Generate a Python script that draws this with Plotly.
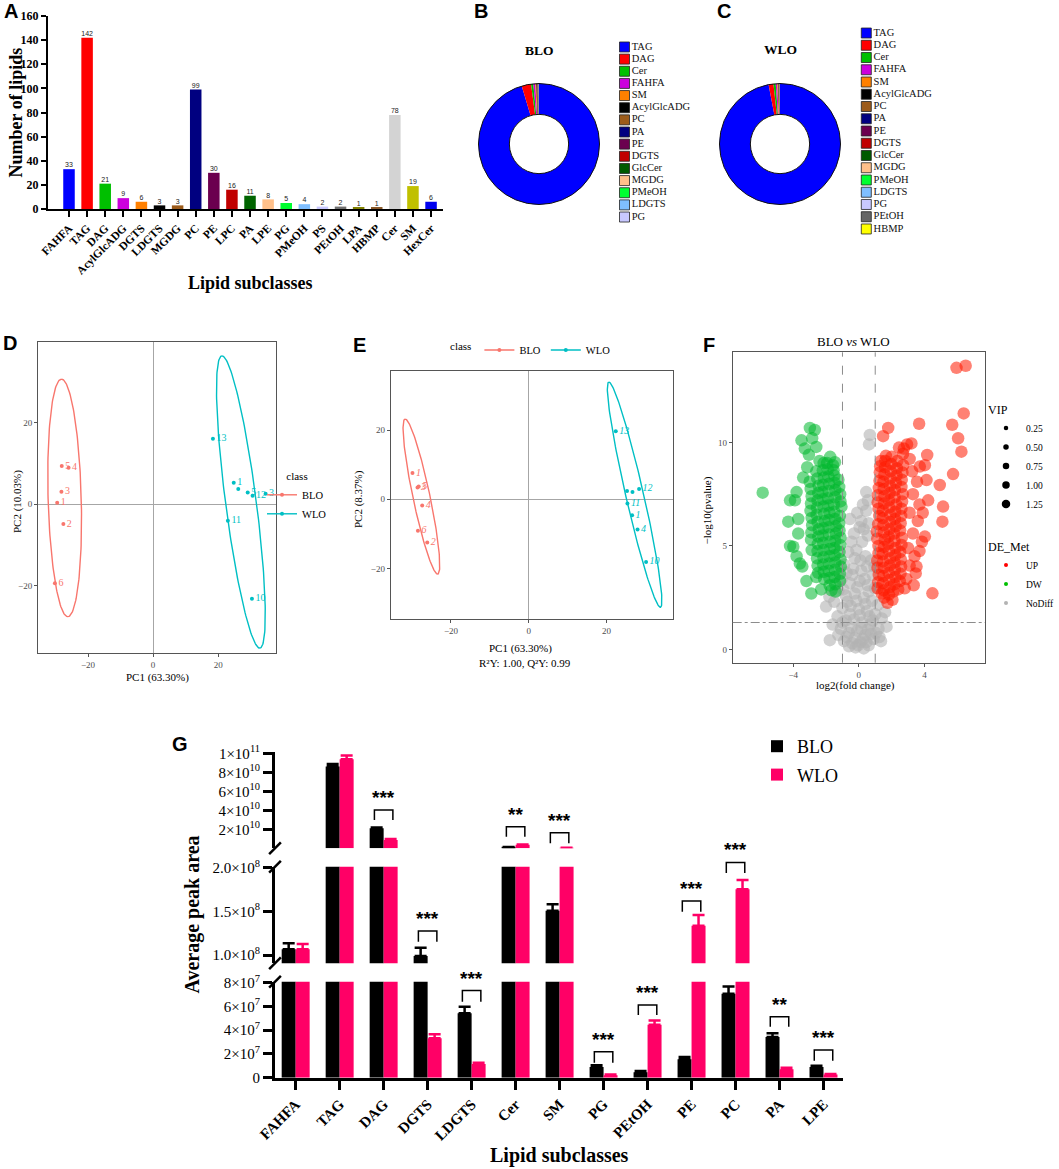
import numpy as np
import plotly.graph_objects as go

W, H = 1059, 1169
SERIF = "Liberation Serif"
SANS = "Liberation Sans"

# ---------------- A: number of lipids in each subclass
a_classes = ["FAHFA", "TAG", "DAG", "AcylGlcADG", "DGTS", "LDGTS", "MGDG", "PC", "PE", "LPC",
             "PA", "LPE", "PG", "PMeOH", "PS", "PEtOH", "LPA", "HBMP", "Cer", "SM", "HexCer"]
a_counts = [33, 142, 21, 9, 6, 3, 3, 99, 30, 16, 11, 8, 5, 4, 2, 2, 1, 1, 78, 19, 6]
a_colors = ["#0000FF", "#FF0000", "#00BF00", "#CC00DD", "#FF8000", "#000000", "#9C5B1A",
            "#000080", "#6B004F", "#C00000", "#006400", "#FFC08A", "#00FF30", "#7FBFFF",
            "#C8C8FF", "#707070", "#808000", "#8B5A2B", "#D3D3D3", "#C0C000", "#0000EE"]

# ---------------- B / C: composition of the two oils (%)
blo_classes = ["TAG", "DAG", "Cer", "FAHFA", "SM", "AcylGlcADG", "PC", "PA", "PE", "DGTS",
               "GlcCer", "MGDG", "PMeOH", "LDGTS", "PG"]
blo_share = [95.4, 2.5, 0.6, 0.5, 0.3, 0.2, 0.15, 0.1, 0.08, 0.05, 0.04, 0.03, 0.02, 0.02, 0.01]
wlo_classes = ["TAG", "DAG", "Cer", "FAHFA", "SM", "AcylGlcADG", "PC", "PA", "PE", "DGTS",
               "GlcCer", "MGDG", "PMeOH", "LDGTS", "PG", "PEtOH", "HBMP"]
wlo_share = [97.0, 1.3, 0.6, 0.4, 0.25, 0.15, 0.1, 0.07, 0.05, 0.03, 0.02, 0.02, 0.01, 0.01,
             0.01, 0.005, 0.003]
pie_colors = {"TAG": "#0000FF", "DAG": "#FF0000", "Cer": "#00C000", "FAHFA": "#CC00DD",
              "SM": "#FF8000", "AcylGlcADG": "#000000", "PC": "#9C5B1A", "PA": "#000080",
              "PE": "#6B004F", "DGTS": "#C00000", "GlcCer": "#005A00", "MGDG": "#FFC08A",
              "PMeOH": "#00FF30", "LDGTS": "#7FBFFF", "PG": "#C8C8FF", "PEtOH": "#666666",
              "HBMP": "#FFFF00"}

# ---------------- D: PCA scores
d_blo_x = [-29.5, -27.6, -28.2, -26.0, -28.1, -30.2]
d_blo_y = [0.3, -4.9, 3.0, 8.9, 9.3, -19.4]
d_blo_lab = ["1", "2", "3", "4", "5", "6"]
d_wlo_x = [18.4, 24.8, 29.1, 30.6, 34.6, 23.0, 30.4]
d_wlo_y = [16.0, 5.2, 2.8, 2.0, 2.5, -4.1, -23.2]
d_wlo_lab = ["13", "1", "5", "12", "3", "11", "10"]
d_wlo_free_x = [26.2]          # sample whose label is hidden
d_wlo_free_y = [3.7]
# confidence ellipses: centre x, centre y, half major axis (dx, dy), half minor axis
ell_d_blo = [-27.2, 1.5, -1.0, 29.1, 5.1]
ell_d_wlo = [27.0, 0.5, -5.9, 35.8, 4.7]

# ---------------- E: OPLS-DA scores
e_blo_x = [-29.9, -26.1, -28.6, -27.4, -28.3, -28.5]
e_blo_y = [7.6, -12.5, 3.4, -1.8, 3.7, -9.1]
e_blo_lab = ["1", "2", "3", "4", "5", "6"]
e_wlo_x = [22.4, 28.4, 25.4, 26.6, 28.0, 30.2]
e_wlo_y = [19.7, 3.0, -1.2, -4.6, -8.7, -18.1]
e_wlo_lab = ["13", "12", "11", "1", "4", "10"]
e_wlo_free_x = [25.3, 26.7]
e_wlo_free_y = [2.4, 2.1]
ell_e_blo = [-27.6, 0.8, -4.2, 22.4, 2.2]
ell_e_wlo = [27.25, 1.35, -6.65, 32.55, 2.3]

# ---------------- F: volcano (log2 fold change, -log10 p)
nodiff_pts = [(0.67, 10.36), (0.62, 9.9), (0.55, 7.2), (0.45, 6.7), (0.30, 5.8), (-0.55, 6.3),
              (-0.30, 5.6), (0.20, 5.2), (0.55, 5.5), (-0.15, 4.8), (0.40, 4.5), (-0.65, 4.7),
              (0.75, 4.3), (-0.90, 4.1), (-0.35, 3.9), (0.15, 3.8), (0.85, 3.6), (-1.05, 3.4),
              (-0.55, 3.2), (0.05, 3.3), (0.55, 3.1), (0.98, 2.95), (-1.25, 2.85), (-0.80, 2.6),
              (-0.25, 2.7), (0.30, 2.5), (0.80, 2.35), (1.15, 2.15), (-1.50, 2.3), (-1.00, 2.0),
              (-0.50, 2.1), (0.00, 1.95), (0.50, 1.85), (1.00, 1.7), (1.40, 1.5), (-1.30, 1.6),
              (-0.80, 1.4), (-0.30, 1.45), (0.20, 1.3), (0.70, 1.2), (1.20, 1.0), (-1.10, 1.0),
              (-0.60, 0.8), (-0.10, 0.9), (0.40, 0.7), (0.90, 0.5), (-0.90, 0.4), (-0.40, 0.3),
              (0.10, 0.35), (0.60, 0.2), (-1.77, 0.45), (1.69, 1.1), (-1.80, 2.55), (-2.00, 2.07),
              (1.35, 0.4), (-0.20, 0.1), (0.30, 0.05), (1.60, 1.8), (-1.60, 1.2), (0.45, 7.6),
              (0.60, 6.1), (-0.45, 5.2), (-0.75, 3.7), (0.95, 4.0), (-0.70, 2.3), (-0.15, 2.35),
              (0.40, 2.2), (0.65, 1.6), (-0.55, 1.7), (0.05, 1.65), (-1.00, 1.3), (-0.45, 1.05),
              (0.15, 1.0), (0.55, 0.95), (1.05, 0.8), (-0.75, 0.6), (-0.25, 0.55), (0.25, 0.5),
              (0.75, 0.75), (-1.25, 0.7), (1.25, 0.6), (-0.05, 0.2), (0.45, 0.35), (-0.60, 0.15),
              (0.85, 1.4), (-0.95, 2.9), (0.60, 2.8), (-0.10, 3.0), (0.35, 3.4), (-0.40, 3.6),
              (0.10, 4.3), (-0.25, 4.4), (0.50, 4.0), (0.05, 5.9), (-0.10, 6.6), (0.25, 7.0),
              (0.15, 6.2)]
down_pts = [(-5.87, 7.57), (-2.99, 10.7), (-2.69, 10.6), (-3.50, 10.1), (-3.30, 9.7), (-2.60, 9.78),
            (-1.46, 9.04), (-2.15, 9.0), (-4.31, 6.17), (-3.90, 7.2), (-3.70, 6.3), (-4.00, 4.96),
            (-3.60, 4.15), (-3.40, 8.3), (-2.88, 4.8), (-2.60, 3.5), (-2.90, 2.7), (-1.67, 2.86),
            (-1.06, 6.9), (-4.20, 7.2), (-3.80, 7.6), (-3.70, 5.6), (-3.80, 4.5), (-3.45, 4.0),
            (-4.20, 5.0), (-2.85, 10.2), (-3.05, 9.4), (-1.75, 9.3), (-2.30, 2.9), (-3.20, 3.3),
            (-1.15, 3.3), (-1.10, 4.0), (-1.18, 4.7), (-1.12, 5.4), (-1.20, 6.1), (-1.14, 7.5),
            (-1.25, 8.2), (-1.42, 2.8), (-1.48, 3.5), (-1.45, 4.2), (-1.50, 4.9), (-1.40, 5.6),
            (-1.46, 6.3), (-1.52, 7.0), (-1.44, 7.7), (-1.50, 8.4), (-1.58, 8.9), (-1.78, 3.1),
            (-1.84, 3.8), (-1.80, 4.5), (-1.76, 5.2), (-1.85, 5.9), (-1.80, 6.6), (-1.88, 7.3),
            (-1.82, 8.0), (-1.90, 8.7), (-2.12, 3.4), (-2.18, 4.1), (-2.15, 4.8), (-2.20, 5.5),
            (-2.10, 6.2), (-2.16, 6.9), (-2.22, 7.6), (-2.14, 8.3), (-2.40, 9.1), (-2.48, 3.7),
            (-2.55, 4.4), (-2.50, 5.1), (-2.45, 5.8), (-2.58, 6.5), (-2.52, 7.2), (-2.46, 7.9),
            (-2.60, 8.6), (-2.92, 5.3), (-2.85, 6.0), (-2.95, 6.7), (-2.88, 7.4), (-3.00, 8.1),
            (-3.15, 8.8), (-1.16, 3.65), (-1.12, 4.35), (-1.14, 5.05), (-1.18, 5.75), (-1.16, 6.45),
            (-1.12, 7.15), (-1.20, 7.85), (-1.44, 3.15), (-1.46, 3.85), (-1.48, 4.55), (-1.44, 5.25),
            (-1.42, 5.95), (-1.50, 6.65), (-1.46, 7.35), (-1.48, 8.05), (-1.54, 8.65), (-1.80, 3.45),
            (-1.82, 4.15), (-1.78, 4.85), (-1.82, 5.55), (-1.84, 6.25), (-1.86, 6.95), (-1.84, 7.65),
            (-1.86, 8.35), (-1.94, 9.0), (-2.14, 3.75), (-2.16, 4.45), (-2.18, 5.15), (-2.16, 5.85),
            (-2.12, 6.55), (-2.18, 7.25), (-2.18, 7.95), (-2.20, 8.65), (-2.52, 4.05), (-2.52, 4.75),
            (-2.48, 5.45), (-2.52, 6.15), (-2.56, 6.85), (-2.48, 7.55), (-2.54, 8.25), (-2.90, 5.65),
            (-2.88, 6.35), (-2.92, 7.05), (-2.94, 7.75)]
up_pts = [(5.96, 13.6), (6.52, 13.7), (6.40, 11.4), (5.70, 10.85), (6.06, 10.2), (6.26, 9.55),
          (5.75, 8.47), (4.94, 7.94), (5.14, 6.9), (5.10, 6.17), (3.68, 10.9), (1.79, 10.7),
          (1.48, 10.3), (3.21, 9.95), (4.17, 9.39), (4.03, 8.9), (4.13, 8.18), (4.23, 7.2),
          (4.03, 5.45), (3.52, 4.0), (3.47, 3.67), (4.49, 2.71), (2.94, 9.9), (3.10, 9.2),
          (2.70, 9.45), (3.72, 8.83), (3.25, 8.6), (3.55, 8.1), (3.30, 7.5), (3.70, 7.0),
          (3.10, 6.6), (3.60, 6.2), (3.30, 5.6), (3.85, 5.2), (3.00, 4.9), (3.40, 4.5),
          (3.10, 4.05), (2.90, 3.4), (3.70, 4.75), (3.90, 6.6), (2.80, 2.95), (3.35, 3.1),
          (2.75, 9.7), (2.45, 9.75), (1.15, 2.95), (1.22, 3.6), (1.12, 4.3), (1.20, 5.0),
          (1.10, 5.7), (1.25, 6.45), (1.15, 7.1), (1.22, 7.8), (1.28, 8.55), (1.35, 9.1),
          (1.55, 2.5), (1.48, 3.2), (1.52, 3.95), (1.45, 4.6), (1.58, 5.3), (1.50, 6.0),
          (1.47, 6.7), (1.56, 7.4), (1.50, 8.1), (1.60, 8.8), (1.65, 9.35), (1.75, 2.25),
          (1.88, 3.0), (1.82, 3.7), (1.90, 4.4), (1.80, 5.1), (1.86, 5.8), (1.92, 6.5),
          (1.84, 7.2), (1.90, 7.9), (1.95, 8.6), (2.00, 9.3), (2.10, 2.8), (2.22, 3.5),
          (2.18, 4.2), (2.25, 4.9), (2.15, 5.6), (2.20, 6.3), (2.28, 7.0), (2.20, 7.7),
          (2.30, 8.4), (2.35, 9.1), (2.50, 3.3), (2.58, 4.0), (2.52, 4.7), (2.62, 5.4),
          (2.55, 6.1), (2.60, 6.8), (2.68, 7.5), (2.62, 8.2), (2.70, 8.9), (2.05, 2.4),
          (1.40, 2.7), (2.40, 2.9), (1.18, 3.25), (1.14, 3.95), (1.20, 4.65), (1.12, 5.35),
          (1.18, 6.05), (1.20, 6.8), (1.16, 7.45), (1.26, 8.15), (1.30, 8.85), (1.52, 2.85),
          (1.50, 3.55), (1.48, 4.25), (1.54, 4.95), (1.52, 5.65), (1.46, 6.35), (1.54, 7.05),
          (1.52, 7.75), (1.56, 8.45), (1.62, 9.1), (1.84, 2.65), (1.86, 3.35), (1.88, 4.05),
          (1.84, 4.75), (1.82, 5.45), (1.90, 6.15), (1.86, 6.85), (1.88, 7.55), (1.92, 8.25),
          (1.98, 8.95), (2.16, 3.15), (2.20, 3.85), (2.22, 4.55), (2.18, 5.25), (2.24, 5.95),
          (2.22, 6.65), (2.18, 7.35), (2.26, 8.05), (2.32, 8.75), (2.54, 3.65), (2.56, 4.35),
          (2.60, 5.05), (2.52, 5.75), (2.58, 6.45), (2.64, 7.15), (2.60, 7.85), (2.66, 8.55)]
vip_levels = ["0.25", "0.50", "0.75", "1.00", "1.25"]
fc_cut = [-1, 1]
p_cut = -np.log10(0.05)

# ---------------- G: average peak area per subclass
g_classes = ["FAHFA", "TAG", "DAG", "DGTS", "LDGTS", "Cer", "SM", "PG", "PEtOH", "PE", "PC", "PA", "LPE"]
g_blo = [1.065e8, 8.6e10, 2.1e10, 0.99e8, 5.42e7, 1.2e9, 1.507e8, 0.9e7, 0.45e7, 1.55e7, 7.06e7, 3.42e7, 0.9e7]
g_blo_err = [0.07e8, 0.27e10, 0.1e10, 0.094e8, 0.56e7, 0.1e9, 0.073e8, 0.15e7, 0.11e7, 0.2e7, 0.61e7, 0.33e7, 0.1e7]
g_wlo = [1.065e8, 9.37e10, 0.87e10, 3.32e7, 1.15e7, 3.8e9, 6e8, 0.2e7, 4.46e7, 1.335e8, 1.752e8, 0.72e7, 0.26e7]
g_wlo_err = [0.06e8, 0.4e10, 0.1e10, 0.33e7, 0.11e7, 0.3e9, 0.3e8, 0.06e7, 0.36e7, 0.123e8, 0.106e8, 0.12e7, 0.05e7]
sig_classes = ["DAG", "Cer", "SM", "DGTS", "LDGTS", "PG", "PEtOH", "PE", "PC", "PA", "LPE"]
sig_marks = ["***", "**", "***", "***", "***", "***", "***", "***", "***", "**", "***"]
sig_seg = ["top", "top", "top", "mid", "bot", "bot", "bot", "mid", "mid", "bot", "bot"]
sig_top = [4.03e10, 2.27e10, 1.64e10, 1.275e8, 7.33e7, 2.19e7, 6.12e7, 1.618e8, 2.06e8, 5.14e7, 2.33e7]
sig_bot = [2.98e10, 1.22e10, 0.53e10, 1.152e8, 6.4e7, 1.26e7, 5.28e7, 1.495e8, 1.94e8, 4.29e7, 1.43e7]
top_ticks = [2e10, 4e10, 6e10, 8e10, 1e11]
top_text = ["2×10<sup>10</sup>", "4×10<sup>10</sup>", "6×10<sup>10</sup>", "8×10<sup>10</sup>", "1×10<sup>11</sup>"]
mid_ticks = [1.0e8, 1.5e8, 2.0e8]
mid_text = ["1.0×10<sup>8</sup>", "1.5×10<sup>8</sup>", "2.0×10<sup>8</sup>"]
bot_ticks = [0, 2e7, 4e7, 6e7, 8e7]
bot_text = ["0", "2×10<sup>7</sup>", "4×10<sup>7</sup>", "6×10<sup>7</sup>", "8×10<sup>7</sup>"]

RED, CYAN = "#F8766D", "#00BFC4"
BLACK, PINK = "#000000", "#FF0066"


def fx(px):
    return px / W


def fy(py):
    return 1 - py / H


def dom_x(left, right):
    return [left / W, right / W]


def dom_y(top, bottom):
    return [1 - bottom / H, 1 - top / H]


def ellipse(p, n=181):
    cx, cy, ux, uy, b = p
    t = np.linspace(0, 2 * np.pi, n)
    L = np.hypot(ux, uy)
    vx, vy = uy / L * b, -ux / L * b
    return cx + ux * np.cos(t) + vx * np.sin(t), cy + uy * np.cos(t) + vy * np.sin(t)


fig = go.Figure()

# A
fig.add_trace(go.Bar(x=a_classes, y=a_counts, marker=dict(color=a_colors, line=dict(width=0)),
                     showlegend=False, xaxis="x", yaxis="y"))
fig.add_trace(go.Scatter(x=a_classes, y=a_counts, mode="text", text=[str(c) for c in a_counts],
                         textposition="top center", cliponaxis=False, showlegend=False,
                         textfont=dict(family=SANS, size=7, color="#222"), xaxis="x", yaxis="y"))

# B, C donuts + their key
for classes, share, cx, k in [(blo_classes, blo_share, 539, 2), (wlo_classes, wlo_share, 780, 3)]:
    dom = dict(x=dom_x(cx - 60.5, cx + 60.5), y=dom_y(144 - 60.5, 144 + 60.5))
    fig.add_trace(go.Pie(labels=classes, values=share, sort=False, direction="clockwise", rotation=0,
                         hole=0.49, domain=dom, textinfo="none", showlegend=False,
                         marker=dict(colors=[pie_colors[c] for c in classes], line=dict(width=0))))
    fig.add_trace(go.Pie(labels=["ring"], values=[1], hole=0.49, domain=dom, textinfo="none",
                         showlegend=False, hoverinfo="skip",
                         marker=dict(colors=["rgba(0,0,0,0)"], line=dict(color="#111", width=1))))
    fig.add_trace(go.Scatter(x=[0] * len(classes), y=classes, mode="markers+text", text=classes,
                             textposition="middle right", cliponaxis=False, showlegend=False,
                             marker=dict(symbol="square", size=10, color=[pie_colors[c] for c in classes],
                                         line=dict(color="#222", width=0.8)),
                             textfont=dict(family=SERIF, size=10.5, color="#111"),
                             xaxis=f"x{k}", yaxis=f"y{k}"))

# D, E score plots
for k, bx, by, blab, wx, wy, wlab, fx_, fy_, eb, ew, style in [
        (4, d_blo_x, d_blo_y, d_blo_lab, d_wlo_x, d_wlo_y, d_wlo_lab, d_wlo_free_x, d_wlo_free_y,
         ell_d_blo, ell_d_wlo, "normal"),
        (5, e_blo_x, e_blo_y, e_blo_lab, e_wlo_x, e_wlo_y, e_wlo_lab, e_wlo_free_x, e_wlo_free_y,
         ell_e_blo, ell_e_wlo, "italic")]:
    for px_, py_, lab, ell, col in [(bx, by, blab, eb, RED), (wx, wy, wlab, ew, CYAN)]:
        ex, ey = ellipse(ell)
        fig.add_trace(go.Scatter(x=ex, y=ey, mode="lines", line=dict(color=col, width=1.4),
                                 showlegend=False, xaxis=f"x{k}", yaxis=f"y{k}"))
        fig.add_trace(go.Scatter(x=px_, y=py_, mode="markers+text", text=lab, textposition="middle right",
                                 marker=dict(color=col, size=4),
                                 textfont=dict(family=SERIF, size=10, color=col, style=style),
                                 showlegend=False, xaxis=f"x{k}", yaxis=f"y{k}"))
    fig.add_trace(go.Scatter(x=fx_, y=fy_, mode="markers", marker=dict(color=CYAN, size=4),
                             showlegend=False, xaxis=f"x{k}", yaxis=f"y{k}"))
    for name, col in [("BLO", RED), ("WLO", CYAN)]:
        fig.add_trace(go.Scatter(x=[None], y=[None], mode="lines+markers", name=name,
                                 line=dict(color=col, width=1.4), marker=dict(color=col, size=4),
                                 legend="legend2" if k == 4 else "legend3", xaxis=f"x{k}", yaxis=f"y{k}"))

# F volcano
for pts, col, op in [(nodiff_pts, "#B3B3B3", 0.6), (down_pts, "#00B82E", 0.55), (up_pts, "#FF1A00", 0.55)]:
    vx, vy = zip(*pts)
    fig.add_trace(go.Scatter(x=vx, y=vy, mode="markers", marker=dict(color=col, size=12.5, opacity=op,
                                                                   line=dict(width=0)),
                             showlegend=False, xaxis="x6", yaxis="y6"))
for i, lv in enumerate(vip_levels):
    fig.add_trace(go.Scatter(x=[None], y=[None], mode="markers", name=lv, legend="legend4",
                             marker=dict(color="black", size=4.5 + i), xaxis="x6", yaxis="y6"))
for name, col in [("UP", "#FF0000"), ("DW", "#00C000"), ("NoDiff", "#B3B3B3")]:
    fig.add_trace(go.Scatter(x=[None], y=[None], mode="markers", name=name, legend="legend5",
                             marker=dict(color=col, size=4), xaxis="x6", yaxis="y6"))

# G broken-axis bars: the same bars on three value ranges
g_seg = {"bot": ("y7", 981.7, 1077.7, 0, 8.08e7),
         "mid": ("y8", 866.7, 963.3, 0.905e8, 2.011e8),
         "top": ("y9", 751.7, 848.3, 0, 1.017e11)}
seg_order = ["bot", "mid", "top"]


def seg_of(v):
    if v <= g_seg["bot"][4]:
        return "bot"
    if v <= g_seg["mid"][4]:
        return "mid"
    return "top"


for seg in seg_order:
    for name, vals, errs, col in [("BLO", g_blo, g_blo_err, BLACK), ("WLO", g_wlo, g_wlo_err, PINK)]:
        reach = [seg_order.index(seg_of(v)) >= seg_order.index(seg) for v in vals]
        fig.add_trace(go.Bar(x=g_classes, y=[v if r else None for v, r in zip(vals, reach)], name=name,
                             marker=dict(color=col, line=dict(width=0)),
                             error_y=dict(type="data", symmetric=False, arrayminus=[0] * len(errs),
                                          array=[e if seg_of(v) == seg else None for v, e in zip(vals, errs)],
                                          color=col, thickness=2.5, width=6),
                             showlegend=(seg == "bot"), legendgroup=name, offsetgroup=name,
                             xaxis="x7", yaxis=g_seg[seg][0]))


def seg_paper(seg, v):
    _, top_px, bot_px, r0, r1 = g_seg[seg]
    return fy(bot_px - (v - r0) / (r1 - r0) * (bot_px - top_px))


# ---------------- layout
frame = dict(showline=True, mirror=True, linecolor="#555", linewidth=1, ticks="outside", ticklen=3,
             tickcolor="#555", tickfont=dict(family=SERIF, size=9, color="#4D4D4D"), showgrid=False,
             zeroline=True, zerolinecolor="#A6A6A6", zerolinewidth=1, automargin=False)
hidden = dict(visible=False, showgrid=False, zeroline=False, automargin=False)
g_y = dict(showline=True, linewidth=3, linecolor="black", ticks="outside", ticklen=9, tickwidth=3,
           tickcolor="black", tickfont=dict(family=SERIF, size=15, color="black"), showgrid=False,
           zeroline=False, anchor="x7", automargin=False)

fig.update_layout(
    template="none",
    width=W, height=H, margin=dict(l=0, r=0, t=0, b=0, autoexpand=False),
    paper_bgcolor="white", plot_bgcolor="white",
    font=dict(family=SERIF, color="black"), barmode="group", bargap=0.364,
    xaxis=dict(domain=dom_x(48, 443), range=[-1.16, 20.66], anchor="y", tickangle=-45, showline=True,
               linewidth=2, linecolor="black", ticks="outside", ticklen=6, tickwidth=2, tickcolor="black",
               showgrid=False, automargin=False, tickfont=dict(family=SERIF, size=11.5, weight="bold")),
    yaxis=dict(domain=dom_y(16, 209), range=[0, 160], dtick=20, anchor="x", showline=True, linewidth=2,
               linecolor="black", ticks="outside", ticklen=5, tickwidth=2, tickcolor="black",
               showgrid=False, zeroline=False, automargin=False,
               tickfont=dict(family=SERIF, size=12, weight="bold")),
    xaxis2=dict(domain=dom_x(614.5, 714.5), range=[-10, 90], anchor="y2", **hidden),
    yaxis2=dict(domain=dom_y(40.9, 223.1), type="category", categoryorder="array",
                categoryarray=blo_classes, range=[len(blo_classes) - 0.5, -0.5], anchor="x2", **hidden),
    xaxis3=dict(domain=dom_x(856.3, 956.3), range=[-10, 90], anchor="y3", **hidden),
    yaxis3=dict(domain=dom_y(26.9, 235.1), type="category", categoryorder="array",
                categoryarray=wlo_classes, range=[len(wlo_classes) - 0.5, -0.5], anchor="x3", **hidden),
    xaxis4=dict(domain=dom_x(38, 276), range=[-35.4, 37.8], tickvals=[-20, 0, 20], anchor="y4", **frame),
    yaxis4=dict(domain=dom_y(342, 653), range=[-36.5, 39.7], tickvals=[-20, 0, 20], anchor="x4", **frame),
    xaxis5=dict(domain=dom_x(390.7, 673.3), range=[-35.5, 37.2], tickvals=[-20, 0, 20], anchor="y5", **frame),
    yaxis5=dict(domain=dom_y(371, 619), range=[-34.6, 37.1], tickvals=[-20, 0, 20], anchor="x5", **frame),
    xaxis6=dict(domain=dom_x(732.7, 985), range=[-7.7, 7.7], tickvals=[-4, 0, 4], anchor="y6",
                **{**frame, "zeroline": False}),
    yaxis6=dict(domain=dom_y(352.3, 662.7), range=[-0.64, 14.35], tickvals=[0, 5, 10], anchor="x6",
                **{**frame, "zeroline": False}),
    xaxis7=dict(domain=dom_x(275, 843.3), range=[-0.47, 12.45], anchor="y7", type="category",
                tickangle=-45, showline=True, linewidth=3, linecolor="black", ticks="outside", ticklen=9,
                tickwidth=3, tickcolor="black", showgrid=False, automargin=False,
                tickfont=dict(family=SERIF, size=15, weight="bold")),
    yaxis7=dict(domain=dom_y(981.7, 1077.7), range=[0, 8.08e7], tickvals=bot_ticks, ticktext=bot_text, **g_y),
    yaxis8=dict(domain=dom_y(866.7, 963.3), range=[0.905e8, 2.011e8], tickvals=mid_ticks, ticktext=mid_text, **g_y),
    yaxis9=dict(domain=dom_y(751.7, 848.3), range=[0, 1.017e11], tickvals=top_ticks, ticktext=top_text, **g_y),
    legend=dict(x=fx(757), y=fy(728), xanchor="left", yanchor="top", font=dict(family=SERIF, size=18),
                bgcolor="rgba(0,0,0,0)", tracegroupgap=2),
    legend2=dict(title=dict(text="class", side="top center", font=dict(size=11)), x=fx(262), y=fy(466),
                 xanchor="left", yanchor="top", font=dict(family=SERIF, size=10.5), bgcolor="rgba(0,0,0,0)"),
    legend3=dict(title=dict(text="class", side="left", font=dict(size=11)), orientation="h", x=fx(448),
                 y=fy(350), xanchor="left", yanchor="middle", font=dict(family=SERIF, size=10.5),
                 bgcolor="rgba(0,0,0,0)"),
    legend4=dict(title=dict(text="VIP", font=dict(size=12)), x=fx(986), y=fy(398), xanchor="left",
                 yanchor="top", font=dict(family=SERIF, size=9.5), bgcolor="rgba(0,0,0,0)"),
    legend5=dict(title=dict(text="DE_Met", font=dict(size=12)), x=fx(986), y=fy(535), xanchor="left",
                 yanchor="top", font=dict(family=SERIF, size=9.5), bgcolor="rgba(0,0,0,0)"),
)

ann = []


def label(s, x, y, size, family=SERIF, bold=False, color="black", angle=0, **kw):
    ann.append(dict(text=s, x=fx(x), y=fy(y), xref="paper", yref="paper", showarrow=False,
                    font=dict(family=family, size=size, color=color, weight="bold" if bold else "normal"),
                    textangle=angle, xanchor="center", yanchor="middle", **kw))


for s, x, y in [("A", 10.5, 11), ("B", 481, 10.7), ("C", 724, 10.5), ("D", 10, 342.5),
                ("E", 359, 344.5), ("F", 709, 344.5), ("G", 179.5, 743.5)]:
    label(s, x, y, 20, SANS, True)

label("Number of lipids", 15.5, 113, 18, bold=True, angle=-90)
label("Lipid subclasses", 250, 283.5, 18, bold=True)
label("BLO", 539, 51, 13.5, bold=True)
label("WLO", 780, 49.5, 13.5, bold=True)
label("PC2 (10.03%)", 17, 502, 11, angle=-90)
label("PC1 (63.30%)", 157, 677, 11)
label("PC2 (8.37%)", 358, 499, 11, angle=-90)
label("PC1 (63.30%)", 520, 648, 11)
label("R²Y: 1.00, Q²Y: 0.99", 525, 662.5, 11)
label("BLO <i>vs</i> WLO", 853, 341, 13)
label("−log10(pvalue)", 707, 510.5, 11, angle=-90)
label("log2(fold change)", 855.5, 685.5, 11)
label("Average peak area", 191.5, 915, 20, bold=True, angle=-90)
label("Lipid subclasses", 559, 1155.5, 20, bold=True)

shapes = []
for v in fc_cut:
    shapes.append(dict(type="line", xref="x6", yref="y6 domain", x0=v, x1=v, y0=0, y1=1,
                       line=dict(color="#8C8C8C", width=1, dash="dash")))
shapes.append(dict(type="line", xref="x6 domain", yref="y6", x0=0, x1=1, y0=p_cut, y1=p_cut,
                   line=dict(color="#8C8C8C", width=1, dash="dashdot")))

for c, mark, seg, top, bot in zip(sig_classes, sig_marks, sig_seg, sig_top, sig_bot):
    i = g_classes.index(c)
    yt, yb = seg_paper(seg, top), seg_paper(seg, bot)
    shapes.append(dict(type="path", xref="x7", yref="paper",
                       path=f"M{i - 0.21},{yb} L{i - 0.21},{yt} L{i + 0.21},{yt} L{i + 0.21},{yb}",
                       line=dict(color="black", width=1.5)))
    ann.append(dict(text=mark, x=i, y=yt, xref="x7", yref="paper", showarrow=False, xanchor="center",
                    yanchor="bottom", font=dict(family=SANS, size=19, weight="bold", color="black")))

# break marks on the value axis
for ref, end in [("y9", 0), ("y8", 1), ("y8", 0), ("y7", 1)]:
    shapes.append(dict(type="line", xref="x7 domain", yref=f"{ref} domain", x0=-0.0103, x1=0.0103,
                       y0=end - 0.061, y1=end + 0.061, line=dict(color="black", width=2.5)))

fig.update_layout(annotations=ann, shapes=shapes)
fig.write_html("out.html", config={"displayModeBar": False},
               post_script="document.body.style.margin = '0px';")
